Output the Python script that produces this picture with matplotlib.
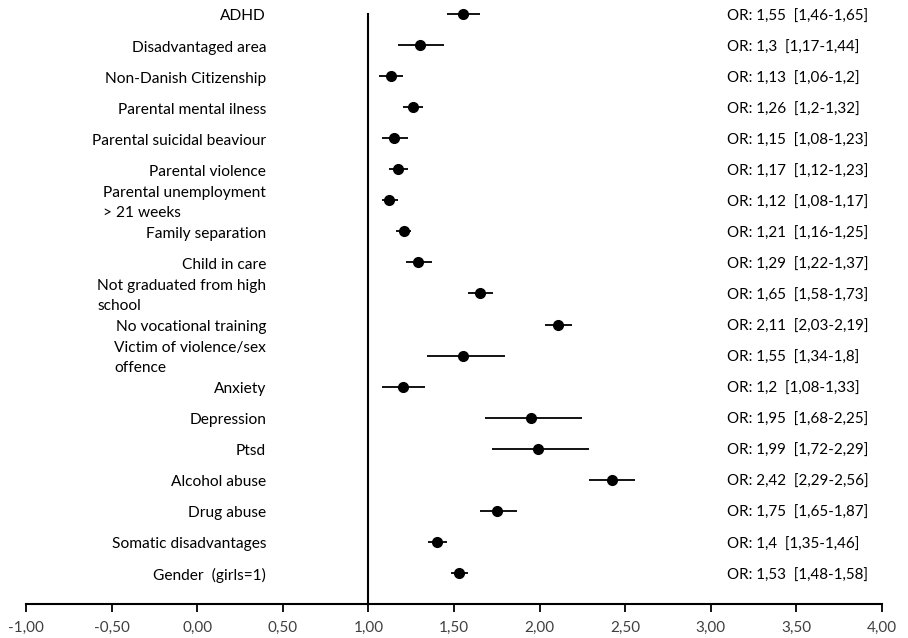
import matplotlib
matplotlib.use("Agg")
import matplotlib.pyplot as plt
import matplotlib.transforms as mtransforms
from matplotlib.ticker import FixedLocator, FuncFormatter

categories = [
    "ADHD", "Disadvantaged area", "Non-Danish Citizenship", "Parental mental ilness",
    "Parental suicidal beaviour", "Parental violence", "Parental unemployment\n> 21 weeks",
    "Family separation", "Child in care", "Not graduated from high\nschool",
    "No vocational training", "Victim of violence/sex\noffence", "Anxiety", "Depression",
    "Ptsd", "Alcohol abuse", "Drug abuse", "Somatic disadvantages", "Gender  (girls=1)",
]
odds_ratio = [1.55, 1.3, 1.13, 1.26, 1.15, 1.17, 1.12, 1.21, 1.29, 1.65,
              2.11, 1.55, 1.2, 1.95, 1.99, 2.42, 1.75, 1.4, 1.53]
ci_low = [1.46, 1.17, 1.06, 1.2, 1.08, 1.12, 1.08, 1.16, 1.22, 1.58,
          2.03, 1.34, 1.08, 1.68, 1.72, 2.29, 1.65, 1.35, 1.48]
ci_high = [1.65, 1.44, 1.2, 1.32, 1.23, 1.23, 1.17, 1.25, 1.37, 1.73,
           2.19, 1.8, 1.33, 2.25, 2.29, 2.56, 1.87, 1.46, 1.58]
or_labels = [
    "OR: 1,55  [1,46-1,65]", "OR: 1,3  [1,17-1,44]", "OR: 1,13  [1,06-1,2]",
    "OR: 1,26  [1,2-1,32]", "OR: 1,15  [1,08-1,23]", "OR: 1,17  [1,12-1,23]",
    "OR: 1,12  [1,08-1,17]", "OR: 1,21  [1,16-1,25]", "OR: 1,29  [1,22-1,37]",
    "OR: 1,65  [1,58-1,73]", "OR: 2,11  [2,03-2,19]", "OR: 1,55  [1,34-1,8]",
    "OR: 1,2  [1,08-1,33]", "OR: 1,95  [1,68-2,25]", "OR: 1,99  [1,72-2,29]",
    "OR: 2,42  [2,29-2,56]", "OR: 1,75  [1,65-1,87]", "OR: 1,4  [1,35-1,46]",
    "OR: 1,53  [1,48-1,58]",
]
x_ticks = [-1.0, -0.5, 0.0, 0.5, 1.0, 1.5, 2.0, 2.5, 3.0, 3.5, 4.0]

plt.rcParams['font.family'] = ['Lato', 'DejaVu Sans']

W, H = 908, 638
fig = plt.figure(figsize=(W / 100, H / 100), dpi=100)
left, right, bottom_px, top_px = 26, 882, 604, 14
ax = fig.add_axes([left / W, (H - bottom_px) / H, (right - left) / W, (bottom_px - top_px) / H])

n = len(categories)
ypos = [n - i for i in range(n)]
xerr = [[o - l for o, l in zip(odds_ratio, ci_low)], [h - o for o, h in zip(odds_ratio, ci_high)]]
ax.errorbar(odds_ratio, ypos, xerr=xerr, fmt='o', color='black', ecolor='black',
            elinewidth=1.3, markersize=7.0, capsize=0, clip_on=False)

ax.set_xlim(-1, 4)
ax.set_ylim(0, n)

for s in ['top', 'right']:
    ax.spines[s].set_visible(False)
ax.spines['left'].set_position(('data', 1))
ax.spines['left'].set_linewidth(1.5)
ax.spines['bottom'].set_linewidth(1.5)
ax.set_yticks([])
ax.xaxis.set_major_locator(FixedLocator(x_ticks))
ax.xaxis.set_major_formatter(FuncFormatter(lambda v, p: f"{v:.2f}".replace('.', ',')))
ax.tick_params(axis='x', direction='out', length=6, width=1.3, labelsize=11,
               labelcolor='#404040', pad=6)

ytr = ax.get_yaxis_transform() + mtransforms.ScaledTranslation(0, -2.5 / 100, fig.dpi_scale_trans)
for y, lab, orl in zip(ypos, categories, or_labels):
    ax.text(0.2804, y, lab, transform=ytr, ha='right', va='center', multialignment='left',
            fontsize=11.2, color='black', linespacing=1.6)
    ax.text(0.819, y, orl, transform=ytr, ha='left', va='center', fontsize=10.9, color='black')

fig.savefig('out.png', dpi=100)
